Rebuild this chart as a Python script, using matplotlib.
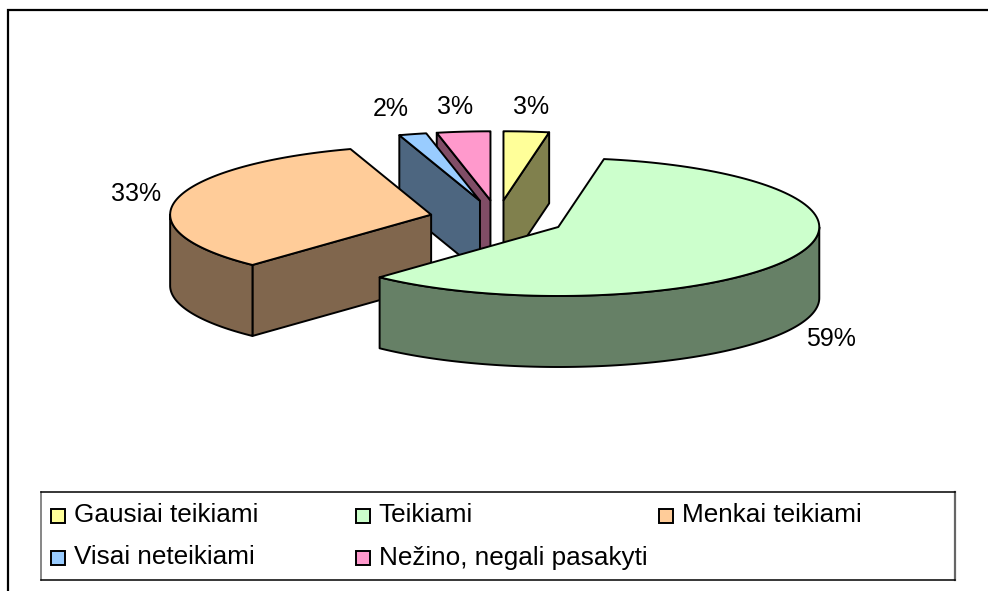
import numpy as np
import matplotlib
matplotlib.use('Agg')
import matplotlib.pyplot as plt
from matplotlib.patches import Polygon, Rectangle

categories = ['Gausiai teikiami', 'Teikiami', 'Menkai teikiami', 'Visai neteikiami', 'Nežino, negali pasakyti']
values = [2.8, 59.2, 33.0, 1.7, 3.3]
colors = ['#FFFF99', '#CCFFCC', '#FFCC99', '#99CCFF', '#FF99CC']
side_colors = ['#80804D', '#668066', '#80664D', '#4D6680', '#804D66']

# where the percent labels sit, in pixels
label_xy = [(531, 107), (831, 339), (136, 194), (391, 109), (455, 107)]

# pie geometry in pixels
CX, CY = 497.5, 218.7
RX, RY = 261, 69
DEPTH = 71
EX, EY = 68, 18.5
EDGE = 1.4

plt.rcParams['font.family'] = ['Liberation Sans', 'DejaVu Sans']

fig = plt.figure(figsize=(9.88, 5.91), dpi=100)
ax = fig.add_axes([0, 0, 1, 1])
ax.set_xlim(0, 988)
ax.set_ylim(591, 0)
ax.axis('off')


def rim(ox, oy, a):
    return ox + RX * np.sin(a), oy - RY * np.cos(a)


def face(points, color):
    ax.add_patch(Polygon(points, closed=True, facecolor=color, edgecolor='black', linewidth=EDGE, joinstyle='round'))


def radial_face(ox, oy, a, color):
    x, y = rim(ox, oy, a)
    face([(ox, oy), (x, y), (x, y + DEPTH), (ox, oy + DEPTH)], color)


def draw_slice(start, end, color, side):
    mid = (start + end) / 2
    ox = CX + EX * np.sin(mid)
    oy = CY - EY * np.cos(mid)
    # cut faces, only those turned towards the viewer
    if np.sin(start) < -1e-6:
        radial_face(ox, oy, start, side)
    if np.sin(end) > 1e-6:
        radial_face(ox, oy, end, side)
    # outer wall, only the front half
    a0, a1 = max(start, np.pi / 2), min(end, 3 * np.pi / 2)
    if a1 > a0:
        t = np.linspace(a0, a1, 120)
        x, y = rim(ox, oy, t)
        face(np.r_[np.c_[x, y], np.c_[x, y + DEPTH][::-1]], side)
    t = np.linspace(start, end, 120)
    x, y = rim(ox, oy, t)
    face(np.r_[[(ox, oy)], np.c_[x, y]], color)


edges = np.r_[0, np.cumsum(values)] / np.sum(values) * 2 * np.pi
order = sorted(range(len(values)), key=lambda i: -np.cos((edges[i] + edges[i + 1]) / 2) * EY)
for i in order:
    draw_slice(edges[i], edges[i + 1], colors[i], side_colors[i])

for v, (x, y) in zip(values, label_xy):
    ax.text(x, y, f'{v:.0f}%', fontsize=18, ha='center', va='center', color='black')

# chart frame, the right and bottom sides are cut off in the picture
ax.plot([8, 8, 988], [591, 10, 10], color='black', linewidth=1.6, solid_joinstyle='miter')

# legend box
ax.plot([41, 41], [492, 580], color='#666666', linewidth=1.1)
ax.plot([955, 955], [492, 580], color='#666666', linewidth=1.6)
ax.plot([41, 955], [492, 492], color='black', linewidth=1.1)
ax.plot([41, 955], [580, 580], color='black', linewidth=1.1)

legend_cols = [51, 355.5, 659, 51, 355.5]
legend_rows = [515.5, 515.5, 515.5, 558, 558]
for name, color, x, y in zip(categories, colors, legend_cols, legend_rows):
    ax.add_patch(Rectangle((x, y - 7), 14, 14, facecolor=color, edgecolor='black', linewidth=1.4))
    ax.text(x + 23, y + 6.5, name, fontsize=18.8, ha='left', va='baseline', color='black')

fig.savefig('out.png', dpi=100)
